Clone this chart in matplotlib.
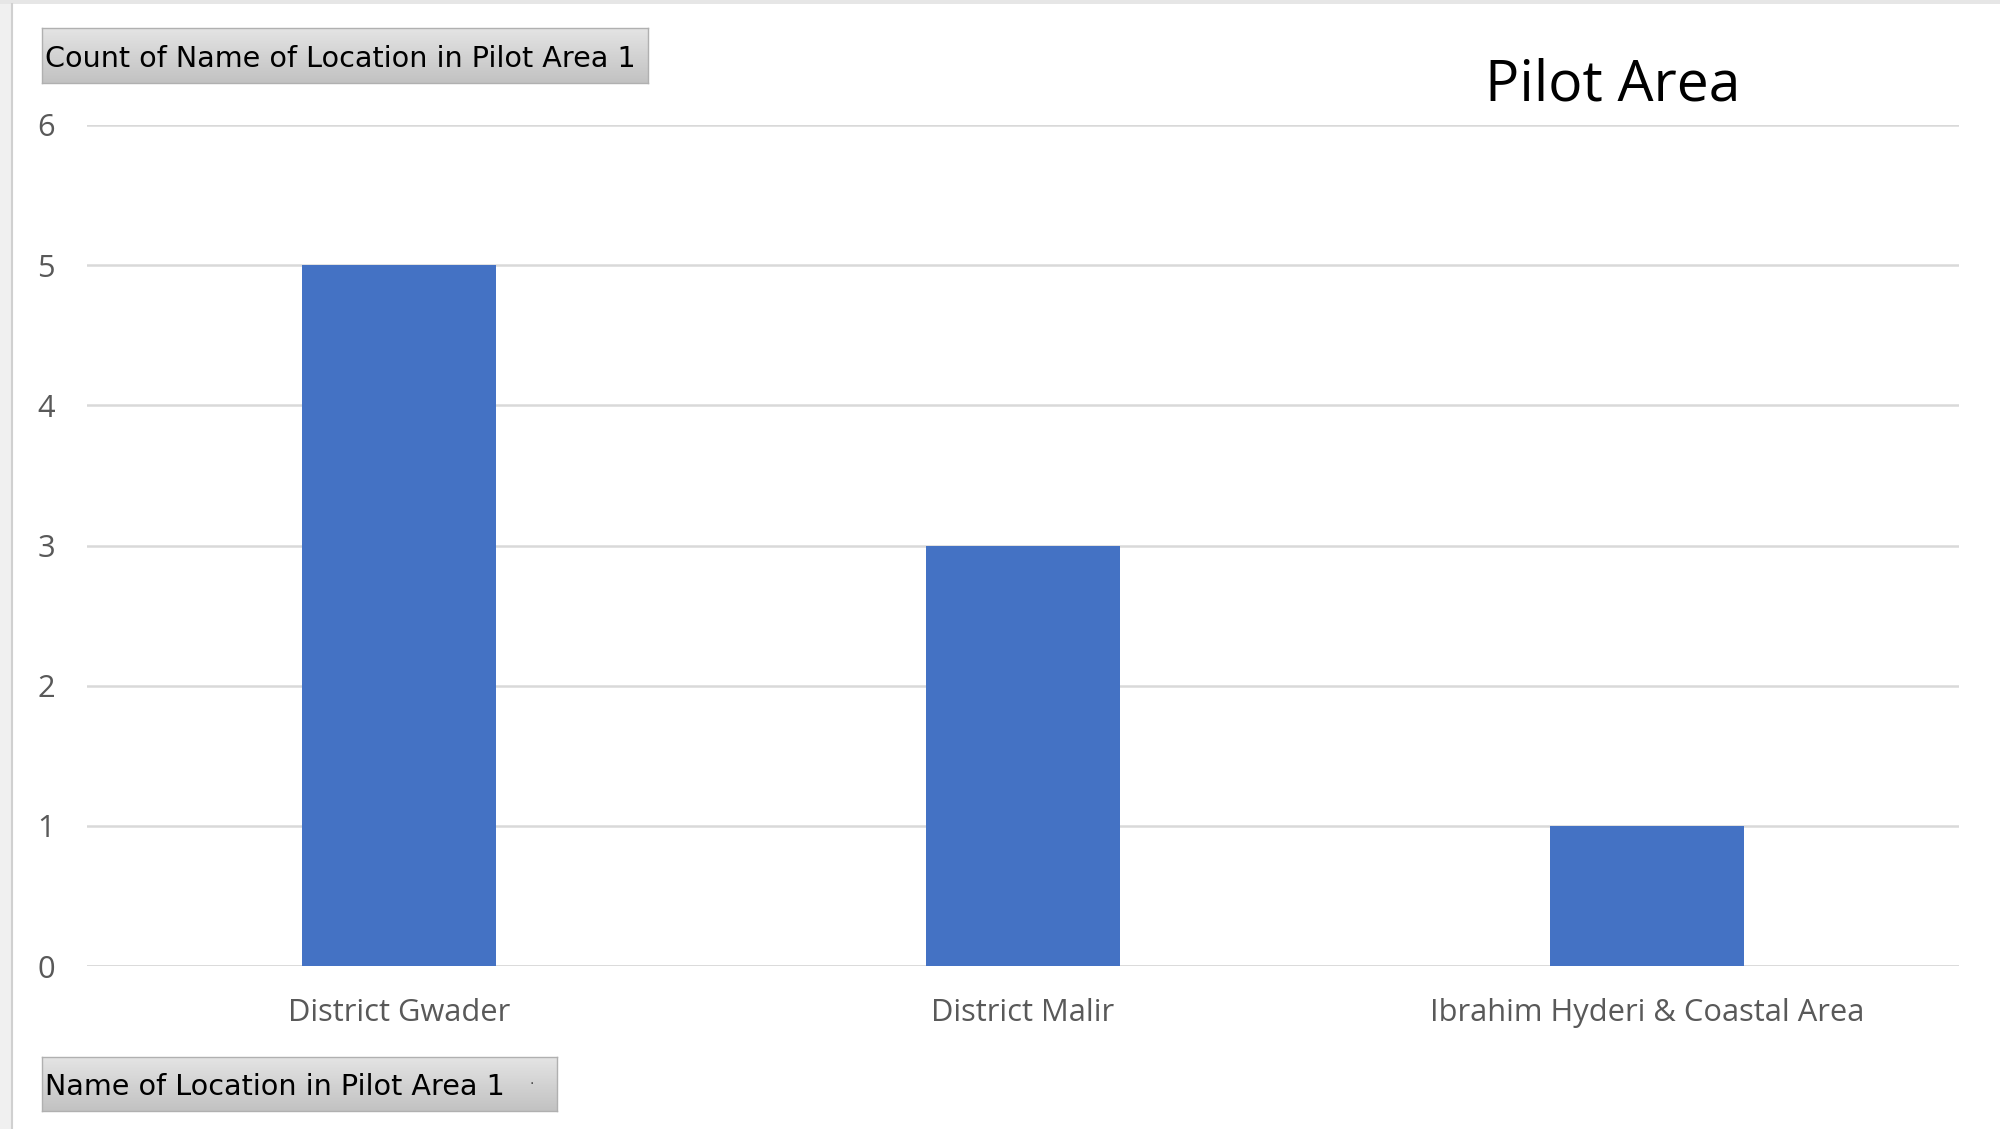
import matplotlib.pyplot as plt
import numpy as np
from matplotlib.patches import Rectangle

categories = ["District Gwader", "District Malir", "Ibrahim Hyderi & Coastal Area"]
counts = [5, 3, 1]
y_ticks = [0, 1, 2, 3, 4, 5, 6]

title = "Pilot Area"
value_button = "Count of Name of Location in Pilot Area 1"
axis_button = "Name of Location in Pilot Area 1"

W, H = 2000, 1129
BAR = "#4472C4"
GRID = "#D9D9D9"
LABEL = "#595959"


def px(x0, y0, x1, y1):
    # pixel box (top-left origin) -> figure fraction rect
    return [x0 / W, 1 - y1 / H, (x1 - x0) / W, (y1 - y0) / H]


def button(fig, box, text):
    bax = fig.add_axes(px(*box))
    grad = np.linspace(0, 1, 64).reshape(-1, 1)
    bax.imshow(grad, cmap=plt.matplotlib.colors.LinearSegmentedColormap.from_list(
        "btn", ["#e4e4e4", "#c2c2c2"]), aspect="auto", extent=[0, 1, 0, 1])
    bax.set_xticks([])
    bax.set_yticks([])
    for s in bax.spines.values():
        s.set_color("#b0b0b0")
        s.set_linewidth(1)
    bax.text(0.005, 0.44, text, transform=bax.transAxes, ha="left", va="center",
             fontsize=20.6, family="DejaVu Sans", color="black")
    return bax


fig = plt.figure(figsize=(W / 100, H / 100), dpi=100)
fig.patch.set_facecolor("white")

# light frame on the left and top like the Excel window
fig.patches.append(Rectangle((0, 0), 12 / W, 1, transform=fig.transFigure,
                             facecolor="#f0f0f0", edgecolor="none", zorder=0))
fig.patches.append(Rectangle((0, 1 - 4 / H), 1, 4 / H, transform=fig.transFigure,
                             facecolor="#e6e6e6", edgecolor="none", zorder=0))
fig.add_artist(plt.Line2D([12 / W, 12 / W], [0, 1 - 4 / H], transform=fig.transFigure,
                          color="#d0d0d0", lw=1.5))

ax = fig.add_axes(px(87, 125, 1959, 966))
x = np.arange(len(categories))
ax.bar(x, counts, width=0.312, color=BAR, zorder=3)
ax.set_xlim(-0.5, len(categories) - 0.5)
ax.set_ylim(0, 6)
ax.set_yticks(y_ticks)
ax.set_xticks(x)
ax.set_xticklabels(categories, family="Open Sans", fontsize=22.2, color=LABEL)
ax.set_yticklabels([str(v) for v in y_ticks], family="Open Sans", fontsize=22.2, color=LABEL)
ax.tick_params(axis="both", length=0)
ax.tick_params(axis="x", pad=23)
ax.tick_params(axis="y", pad=23)
ax.grid(axis="y", color=GRID, lw=1.8, zorder=0)
for s in ax.spines.values():
    s.set_visible(False)
ax.axhline(0, color=GRID, lw=1.8, zorder=2)

fig.text(1613 / W, 1 - 86 / H, title, ha="center", va="center",
         fontsize=41, family="Open Sans", color="black")

button(fig, (42, 28, 648, 83), value_button)
bb = button(fig, (42, 1057, 557, 1111), axis_button)
bb.text(0.95, 0.5, "·", transform=bb.transAxes, ha="center", va="center",
        fontsize=10, color="#404040")

plt.savefig("out.png", dpi=100)
plt.close()
